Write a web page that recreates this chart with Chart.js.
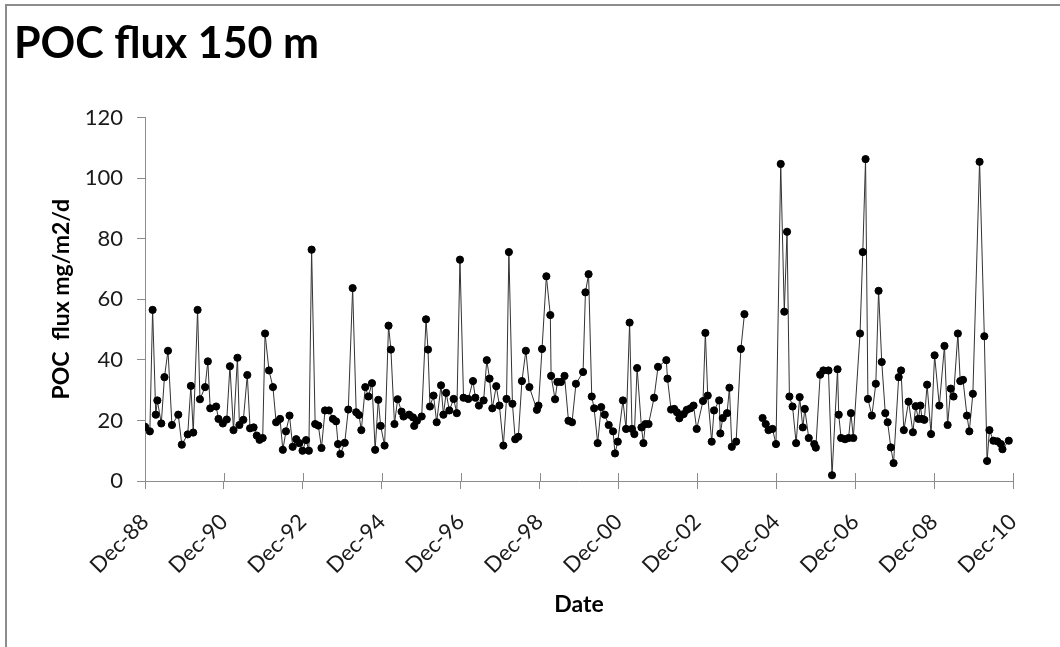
<!DOCTYPE html>
<html>
<head>
<meta charset="utf-8">
<script src="https://cdn.jsdelivr.net/npm/chart.js@4.4.1/dist/chart.umd.min.js"></script>
<style>
  html, body { margin: 0; padding: 0; background: #fff; }
  #wrap { position: relative; width: 1060px; height: 647px; overflow: hidden; }
  #frame { position: absolute; left: 5px; top: 4px; width: 1100px; height: 700px;
           border-left: 2px solid #8c8c8c; border-top: 2px solid #8c8c8c; }
  #chart { position: absolute; left: 0; top: 0; }
</style>
</head>
<body>
<div id="wrap">
  <div id="frame"></div>
  <canvas id="chart" width="1060" height="647"></canvas>
</div>
<script>
// sample dates as decimal years, null flux marks the gap in 2004
const dates = [
  1988.92, 1989.04, 1989.11, 1989.19, 1989.23, 1989.33, 1989.41, 1989.50, 1989.60, 1989.76, 1989.85,
  1990.00, 1990.08, 1990.14, 1990.25, 1990.31, 1990.44, 1990.51, 1990.57, 1990.72, 1990.78, 1990.89, 1990.99,
  1991.07, 1991.16, 1991.26, 1991.31, 1991.41, 1991.51, 1991.58, 1991.67, 1991.75, 1991.82, 1991.90, 1991.96,
  1992.06, 1992.16, 1992.24, 1992.34, 1992.41, 1992.49, 1992.58, 1992.66, 1992.75, 1992.83, 1992.91,
  1993.00, 1993.07, 1993.14, 1993.23, 1993.31, 1993.39, 1993.48, 1993.58, 1993.68, 1993.76, 1993.81, 1993.87, 1993.98,
  1994.07, 1994.18, 1994.27, 1994.34, 1994.40, 1994.50, 1994.58, 1994.67, 1994.75, 1994.83, 1994.89, 1994.99,
  1995.09, 1995.15, 1995.24, 1995.32, 1995.42, 1995.47, 1995.61, 1995.71, 1995.74, 1995.81, 1995.93,
  1996.04, 1996.09, 1996.14, 1996.23, 1996.31, 1996.42, 1996.48, 1996.55, 1996.63, 1996.74, 1996.82, 1996.90, 1996.99,
  1997.11, 1997.23, 1997.29, 1997.38, 1997.50, 1997.58, 1997.65, 1997.72, 1997.82, 1997.90,
  1998.00, 1998.08, 1998.14, 1998.23, 1998.30, 1998.38, 1998.47, 1998.57, 1998.66, 1998.85, 1998.89, 1998.98,
  1999.09, 1999.19, 1999.21, 1999.31, 1999.37, 1999.46, 1999.55, 1999.65, 1999.74, 1999.84,
  2000.02, 2000.08, 2000.16, 2000.24, 2000.30, 2000.39, 2000.48, 2000.57, 2000.67, 2000.78, 2000.83, 2000.90,
  2001.03, 2001.11, 2001.20, 2001.26, 2001.32, 2001.39, 2001.50, 2001.55, 2001.60, 2001.68, 2001.82, 2001.92,
  2002.13, 2002.16, 2002.25, 2002.33, 2002.40, 2002.46, 2002.57, 2002.65, 2002.74, 2002.82, 2002.90,
  2003.06, 2003.12, 2003.18, 2003.28, 2003.34, 2003.47, 2003.50, 2003.56, 2003.67, 2003.73, 2003.79, 2003.90,
  2004.02, 2004.11, 2004.35, 2004.57, 2004.65, 2004.72, 2004.82, 2004.91,
  2005.03, 2005.12, 2005.19, 2005.25, 2005.33, 2005.42, 2005.51, 2005.59, 2005.64, 2005.74, 2005.88, 2005.92,
  2006.03, 2006.11, 2006.24, 2006.33, 2006.47, 2006.50, 2006.56, 2006.66, 2006.75, 2006.81, 2006.87,
  2007.04, 2007.11, 2007.18, 2007.24, 2007.34, 2007.44, 2007.51, 2007.59, 2007.68, 2007.74, 2007.82, 2007.89,
  2008.02, 2008.08, 2008.15, 2008.27, 2008.38, 2008.45, 2008.52, 2008.57, 2008.61, 2008.67, 2008.74, 2008.84, 2008.93,
  2009.05, 2009.18, 2009.26, 2009.34, 2009.41, 2009.52, 2009.58, 2009.65, 2009.75, 2009.81, 2009.90,
  2010.07, 2010.19, 2010.26, 2010.32, 2010.42, 2010.52, 2010.61, 2010.65, 2010.81
];

// POC flux, mg/m2/d
const flux = [
  17.9, 16.4, 56.5, 21.9, 26.6, 19.0, 34.3, 43.0, 18.5, 21.9, 12.0,
  15.4, 31.4, 16.0, 56.5, 27.0, 31.0, 39.5, 24.0, 24.6, 20.5, 19.0, 20.3,
  37.9, 16.8, 40.7, 18.5, 20.2, 35.0, 17.4, 17.7, 15.0, 13.6, 14.2, 48.7,
  36.5, 31.0, 19.4, 20.5, 10.3, 16.4, 21.6, 11.3, 13.8, 12.5, 10.0,
  13.5, 10.0, 76.4, 18.8, 18.3, 10.9, 23.3, 23.3, 20.5, 19.7, 12.2, 8.9, 12.6,
  23.6, 63.7, 22.7, 21.8, 16.8, 31.0, 27.9, 32.3, 10.3, 26.8, 18.2, 11.7,
  51.3, 43.4, 18.8, 27.0, 22.9, 21.3, 21.9, 21.0, 18.2, 19.9, 21.3,
  53.4, 43.4, 24.6, 28.2, 19.4, 31.6, 21.9, 29.1, 23.3, 27.1, 22.4, 73.1, 27.5,
  27.1, 33.0, 27.5, 24.9, 26.6, 39.9, 33.8, 24.0, 31.3, 24.9,
  11.7, 27.1, 75.6, 25.5, 13.8, 14.6, 33.0, 43.0, 31.0, 23.5, 24.9, 43.6,
  67.6, 54.8, 34.7, 27.0, 32.7, 32.7, 34.7, 19.9, 19.4, 32.1,
  36.0, 62.3, 68.3, 27.9, 24.0, 12.5, 24.4, 21.9, 18.5, 16.4, 9.1, 13.0,
  26.6, 17.2, 52.3, 17.2, 15.5, 37.3, 17.7, 12.5, 18.8, 18.8, 27.5, 37.7,
  39.9, 33.8, 23.6, 23.8, 22.7, 20.7, 22.1, 23.5, 24.0, 24.9, 17.2,
  26.4, 48.9, 28.2, 13.0, 23.3, 26.6, 15.7, 20.8, 22.4, 30.8, 11.3, 13.0,
  43.6, 55.1, null, 20.8, 18.8, 16.8, 17.2, 12.2,
  104.7, 55.9, 82.3, 27.9, 24.6, 12.5, 27.7, 17.7, 23.8, 14.2, 12.2, 11.0,
  35.1, 36.5, 36.5, 1.9, 36.9, 21.9, 14.2, 13.8, 14.2, 22.4, 14.2,
  48.7, 75.6, 106.3, 27.1, 21.6, 32.1, 62.8, 39.3, 22.4, 19.4, 11.1, 5.9,
  34.3, 36.5, 16.8, 26.2, 16.1, 24.7, 20.5, 24.9, 20.5, 20.2, 31.8, 15.5, 41.5,
  24.9, 44.6, 18.5, 30.5, 27.9, 48.7, 33.0, 33.4, 21.6, 16.4, 28.8,
  105.4, 47.8, 6.6, 16.8, 13.3, 13.1, 12.2, 10.5, 13.3
];

// x axis ticks (December of every second year)
const tickValues = [1988.917, 1990.917, 1992.917, 1994.917, 1996.917, 1998.917,
                    2000.917, 2002.917, 2004.917, 2006.917, 2008.917, 2010.917];
const tickLabels = ['Dec-88', 'Dec-90', 'Dec-92', 'Dec-94', 'Dec-96', 'Dec-98',
                    'Dec-00', 'Dec-02', 'Dec-04', 'Dec-06', 'Dec-08', 'Dec-10'];

const axisGrey = '#8c8c8c';
const fontFamily = 'Lato, "Open Sans", sans-serif';

// the x tick marks cross the axis, draw the upper half
const crossTicks = {
  id: 'crossTicks',
  beforeDatasetsDraw(chart) {
    const { ctx, chartArea } = chart;
    const x = chart.scales.x;
    ctx.save();
    ctx.strokeStyle = axisGrey;
    ctx.lineWidth = 1;
    tickValues.forEach(v => {
      const px = Math.round(x.getPixelForValue(v)) + 0.5;
      ctx.beginPath();
      ctx.moveTo(px, chartArea.bottom - 8);
      ctx.lineTo(px, chartArea.bottom);
      ctx.stroke();
    });
    ctx.restore();
  }
};

const points = dates.map((d, i) => ({ x: d, y: flux[i] }));

new Chart(document.getElementById('chart'), {
  type: 'line',
  data: {
    datasets: [{
      label: 'POC flux',
      data: points,
      borderColor: '#333333',
      borderWidth: 1,
      pointRadius: 3.6,
      pointBackgroundColor: '#000',
      pointBorderColor: '#000',
      pointBorderWidth: 1,
      tension: 0,
      spanGaps: false
    }]
  },
  options: {
    responsive: false,
    animation: false,
    devicePixelRatio: 1,
    layout: { padding: { left: 14, right: 47, top: 0, bottom: 0 } },
    plugins: {
      legend: { display: false },
      tooltip: { enabled: false },
      title: {
        display: true,
        text: 'POC flux 150 m',
        align: 'start',
        color: '#000',
        font: { family: fontFamily, size: 43, weight: 'bold' },
        padding: { top: 18, bottom: 48 }
      }
    },
    scales: {
      x: {
        type: 'linear',
        min: 1988.917,
        max: 2010.917,
        afterBuildTicks: scale => { scale.ticks = tickValues.map(v => ({ value: v })); },
        afterFit: scale => { scale.height = 166; },
        border: { color: axisGrey, width: 1 },
        grid: { drawOnChartArea: false, drawTicks: true, tickLength: 8, color: axisGrey },
        ticks: {
          autoSkip: false,
          maxRotation: 45,
          minRotation: 45,
          padding: 20,
          color: '#1a1a1a',
          font: { family: fontFamily, size: 22 },
          callback: (value, index) => tickLabels[index]
        },
        title: {
          display: true,
          text: 'Date',
          color: '#000',
          font: { family: fontFamily, size: 23, weight: 'bold' },
          padding: { top: 0, bottom: 29 }
        }
      },
      y: {
        min: 0,
        max: 120,
        afterFit: scale => { scale.width = 131; },
        border: { color: axisGrey, width: 1 },
        grid: { drawOnChartArea: false, drawTicks: true, tickLength: 8, color: axisGrey },
        ticks: {
          stepSize: 20,
          padding: 14,
          color: '#1a1a1a',
          font: { family: fontFamily, size: 22 }
        },
        title: {
          display: true,
          text: 'POC  flux mg/m2/d',
          color: '#000',
          font: { family: fontFamily, size: 23, weight: 'bold' },
          padding: { top: 34, bottom: 0 }
        }
      }
    }
  },
  plugins: [crossTicks]
});
</script>
</body>
</html>
